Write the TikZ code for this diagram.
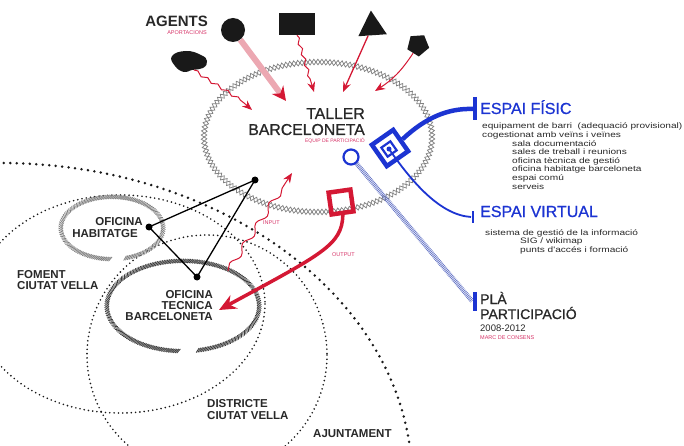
\documentclass[tikz,border=0pt]{standalone}
\usepackage{fontspec}
\setmainfont{Liberation Sans}
\newfontfamily\widefont[FakeStretch=1.28]{Liberation Sans}
\newfontfamily\medfont[FakeBold=0.9]{Liberation Sans}
\usetikzlibrary{arrows.meta}
\usetikzlibrary{positioning}
\usetikzlibrary{shapes.geometric}
\usetikzlibrary{decorations.pathmorphing, decorations.pathreplacing}

\definecolor{tallergray}{RGB}{130,130,130}
\definecolor{darktext}{RGB}{40,40,40}
\definecolor{dotblack}{RGB}{25,25,25}
\definecolor{arrowred}{RGB}{212,24,52}
\definecolor{capred}{RGB}{214,52,104}
\definecolor{shaftpink}{RGB}{236,168,178}
\definecolor{espaiblue}{RGB}{28,52,210}
\definecolor{hatchblue}{RGB}{96,112,196}

\tikzset{
  tallerchain/.style={draw=tallergray, line width=0.75pt, decorate,
    decoration={zigzag, segment length=8pt, amplitude=2.8pt}},
  bigdots/.style={draw=dotblack, line width=2.8pt, line cap=round, dash pattern=on 0pt off 6.5pt},
  smalldots/.style={draw=dotblack, line width=1.8pt, line cap=round, dash pattern=on 0pt off 4.3pt},
  rope/.style={line width=0.8pt, decorate,
    decoration={border, segment length=1.7pt, amplitude=5.5pt, angle=50}},
  vertex/.style={circle, fill=black, inner sep=0pt, minimum size=7pt},
  tie/.style={draw=black, line width=1.3pt},
  agentshape/.style={fill=dotblack, draw=none, inner sep=0pt},
  thinarrow/.style={draw=arrowred, line width=1pt, -{Stealth[length=10pt, width=8pt]}},
  bigtxt/.style={font=\medfont\fontsize{15.8}{16}\selectfont, text=darktext, inner sep=0pt},
  placetxt/.style={font=\bfseries\fontsize{11.5}{11}\selectfont, text=darktext, inner sep=0pt},
  captxt/.style={font=\fontsize{5.5}{6}\selectfont, text=capred, inner sep=0pt},
  bluehead/.style={font=\medfont\fontsize{16}{16}\selectfont, text=espaiblue, inner sep=0pt},
  detailtxt/.style={font=\widefont\fontsize{7.9}{8.6}\selectfont, text=darktext, inner sep=0pt, anchor=base west},
}

\begin{document}
\begin{tikzpicture}[x=1pt,y=-1pt]
\useasboundingbox (0,0) rectangle (684,446);
\clip (0,0) rectangle (684,446);

% dotted areas
\draw[bigdots] (0,480) ellipse [x radius=412, y radius=317];
\draw[smalldots] (120,304) ellipse [x radius=145, y radius=109];
\draw[smalldots] (207,355) circle [radius=120];

% taller
\draw[tallerchain] (318,137) ellipse [x radius=114, y radius=75];
\draw[tallerchain, decoration={mirror}] (318,137) ellipse [x radius=114, y radius=75];

% oficines
\coordinate (habit) at (112,228);
\coordinate (tecnica) at (183,306);
\draw[rope, draw=gray] (habit) ++(90:49 and 29) arc[start angle=90, end angle=435, x radius=49, y radius=29];
\draw[rope, draw=darktext!90] (tecnica) ++(92:74 and 43) arc[start angle=92, end angle=440, x radius=74, y radius=43];

\node[vertex] (vhab) at (149,227) {};
\node[vertex] (vtop) at (255,180) {};
\node[vertex] (vtec) at (197,277) {};
\draw[tie] (vhab.center) -- (vtop.center) -- (vtec.center) -- cycle;

% agents
\node[agentshape, circle, minimum size=24pt] (agcirc) at (233,30) {};
\node[agentshape, minimum width=36pt, minimum height=22pt] (agrect) at (297,24) {};
\node[agentshape, regular polygon, regular polygon sides=3, minimum size=33pt, rotate=4] (agtri) at (372,27) {};
\node[agentshape, regular polygon, regular polygon sides=5, minimum size=23pt, rotate=184] (agpent) at (418,45) {};
\fill[dotblack] plot[smooth cycle, tension=0.8] coordinates {(172,56) (186,51) (201,55) (207,61) (203,68) (192,70) (184,72) (175,66)};
\coordinate (agblob) at (194,70);

\coordinate (tip1) at (252,110);
\coordinate (tip2) at (286,101);
\coordinate (tip3) at (314,92);
\coordinate (tip4) at (343,92);
\coordinate (tip5) at (375,91);
\draw[thinarrow, decorate, decoration={snake, amplitude=1.5pt, segment length=12pt, post length=10pt}] (agblob) .. controls (215,85) and (238,96) .. (tip1);
\draw[shaftpink, line width=6pt, -{Stealth[length=14pt, width=14pt, color=arrowred]}] (agcirc) -- (tip2);
\draw[thinarrow, decorate, decoration={snake, amplitude=1.5pt, segment length=11pt, post length=10pt}] (agrect.south) -- (tip3);
\draw[thinarrow, line width=1.3pt] (agtri) -- (tip4);
\draw[thinarrow] (agpent) to[bend left=12] (tip5);

% input / output
\coordinate (inbase) at (228,271);
\coordinate (intip) at (292,173);
\draw[thinarrow, decorate, decoration={snake, amplitude=3pt, segment length=24pt, post length=10pt}] (inbase) -- (intip);
\node[draw=arrowred, line width=4.5pt, minimum size=22pt, inner sep=0pt, rotate=8] (outsq) at (341,202) {};
\coordinate (outtip) at (219,310);
\draw[arrowred, line width=3.5pt, -{Stealth[length=17pt, width=15pt]}] (outsq.south) .. controls (342,245) and (322,254) .. (outtip);

% espais
\node[draw=espaiblue, circle, line width=2.2pt, minimum size=15pt, inner sep=0pt] (bluecirc) at (351,157) {};
\node[draw=espaiblue, line width=4.5pt, minimum size=26pt, inner sep=0pt, rotate=35] (bluesq) at (390,148) {};
\node[draw=espaiblue, line width=2.2pt, minimum size=11pt, inner sep=0pt, rotate=35] (bluein) at (389,149) {};
\fill[espaiblue] (bluein) circle (2.5);
\coordinate (fisicbar) at (473,109);
\coordinate (virtbar) at (471,217);
\coordinate (plabar) at (472,301);
\draw[espaiblue, line width=4.5pt] (bluesq.east) .. controls (425,118) and (448,108) .. (fisicbar);
\draw[espaiblue, line width=1.8pt] (bluein.center) .. controls (412,182) and (440,215) .. (virtbar);
\draw[hatchblue, line width=4.5pt, dash pattern=on 0.7pt off 0.9pt] (bluecirc) -- (plabar);
\draw[espaiblue, line width=4pt] (475,97) -- (475,120);
\draw[espaiblue, line width=2.5pt] (473,211) -- (473,223);
\draw[espaiblue, line width=3.5pt] (475,292) -- (475,311);

% texts
\node[font=\bfseries\fontsize{15}{15}\selectfont, text=darktext, inner sep=0pt, anchor=base east] at (208,27) {AGENTS};
\node[captxt, anchor=base east] at (207,35) {APORTACIONS};
\node[bigtxt, anchor=base east] at (365,119) {TALLER};
\node[bigtxt, anchor=base east] at (365,135) {BARCELONETA};
\node[captxt, font=\fontsize{5}{5}\selectfont, anchor=base east] at (365,143) {EQUIP DE PARTICIPACIÓ};

\node[bluehead, anchor=base west] at (480,114) {ESPAI FÍSIC};
\node[detailtxt] at (482,129) {equipament de barri\ \ (adequació provisional)};
\node[detailtxt] at (482,137.6) {cogestionat amb veïns i veïnes};
\foreach \txt [count=\i] in {sala documentació, sales de treball i reunions, oficina tècnica de gestió, oficina habitatge barceloneta, espai comú, serveis}
  \node[detailtxt] at (512, 137.6+8.6*\i) {\txt};
\node[bluehead, anchor=base west] at (480,217) {ESPAI VIRTUAL};
\node[detailtxt] at (485,235) {sistema de gestió de la informació};
\node[detailtxt] at (520,243.6) {SIG / wikimap};
\node[detailtxt] at (520,252.2) {punts d'accés i formació};

\node[bigtxt, font=\medfont\fontsize{14}{14}\selectfont, anchor=base west] at (480,304) {PLÀ};
\node[bigtxt, font=\medfont\fontsize{14}{14}\selectfont, anchor=base west] at (480,319) {PARTICIPACIÓ};
\node[bigtxt, font=\fontsize{9.5}{9.5}\selectfont, anchor=base west] at (480,331) {2008-2012};
\node[captxt, anchor=base west] at (480,339) {MARC DE CONSENS};

\node[placetxt, font=\bfseries\fontsize{11.5}{11}\selectfont, anchor=base] at (119,225.5) {OFICINA};
\node[placetxt, font=\bfseries\fontsize{11.5}{11}\selectfont, anchor=base] at (105,237.5) {HABITATGE};
\node[placetxt, anchor=base west] at (17,278) {FOMENT};
\node[placetxt, anchor=base west] at (17,289) {CIUTAT VELLA};
\node[placetxt, anchor=base east] at (213,298) {OFICINA};
\node[placetxt, anchor=base east] at (213,309) {TECNICA};
\node[placetxt, anchor=base east] at (213,320) {BARCELONETA};
\node[placetxt, anchor=base west] at (207,407) {DISTRICTE};
\node[placetxt, anchor=base west] at (207,419) {CIUTAT VELLA};
\node[placetxt, anchor=base west] at (313,437) {AJUNTAMENT};
\node[captxt, anchor=base west] at (263,224) {INPUT};
\node[captxt, anchor=base west] at (332,256) {OUTPUT};
\end{tikzpicture}
\end{document}
